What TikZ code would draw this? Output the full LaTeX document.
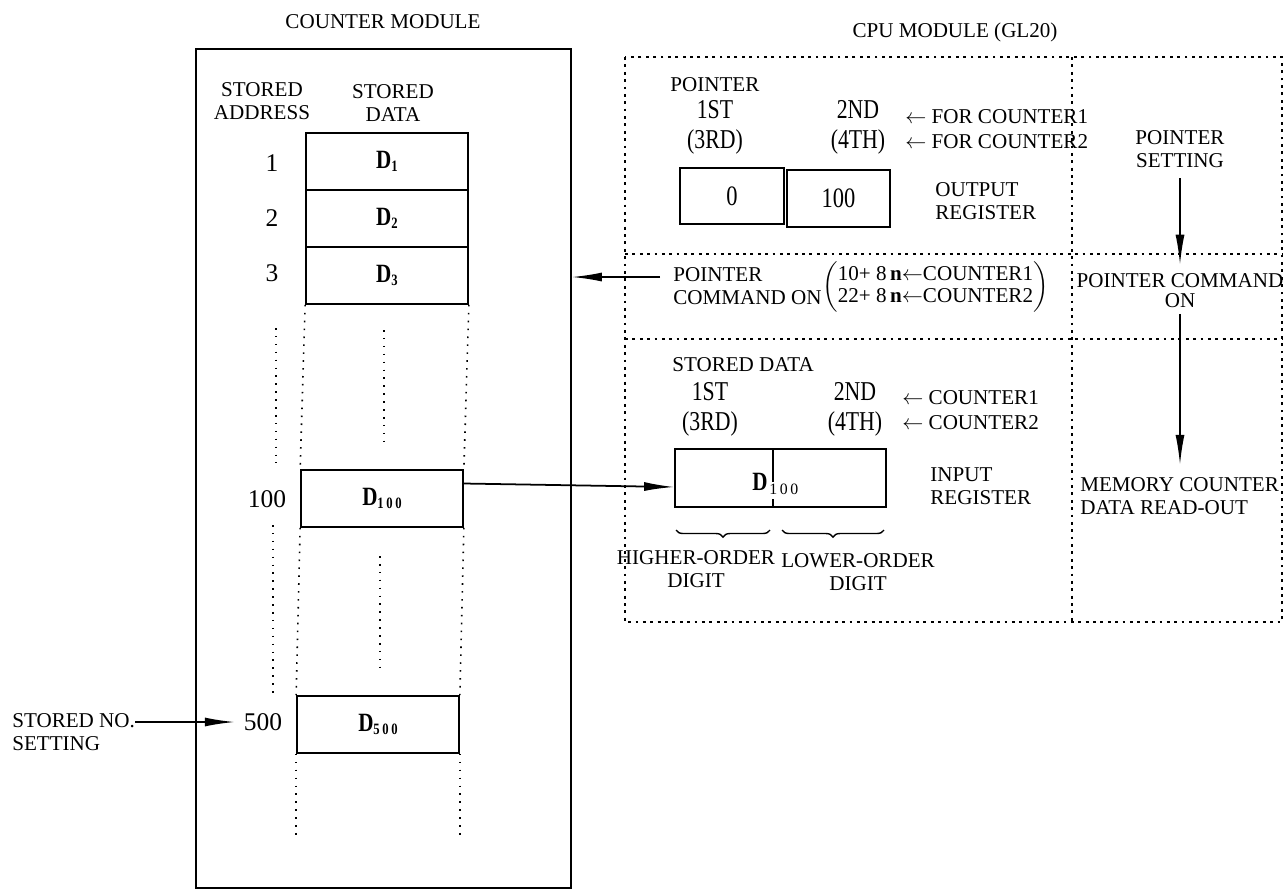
\documentclass[tikz,border=0pt]{standalone}
\usepackage{amsmath}
\usepackage{fontspec}
\setmainfont{Liberation Serif}
\newfontfamily\narrowfont[FakeStretch=0.8]{Liberation Serif}
\usetikzlibrary{arrows.meta, decorations.pathreplacing}

\newcommand{\dsub}[1]{\raisebox{-1.5pt}{\fontsize{9}{9}\selectfont #1}}

\tikzset{
    lbl/.style={font=\fontsize{12}{13}\selectfont, align=center, inner sep=0pt},
    lblw/.style={lbl, align=left, anchor=west},
    num/.style={font=\fontsize{14.5}{14.5}\selectfont, inner sep=0pt},
    regnum/.style={font=\narrowfont\fontsize{16}{16}\selectfont},
    ord/.style={font=\narrowfont\fontsize{15.5}{17}\selectfont, align=center, inner sep=0pt},
    cell/.style={draw, line width=1pt, minimum width=3.24cm, minimum height=1.14cm, inner sep=0pt,
        font=\narrowfont\bfseries\fontsize{15}{15}\selectfont},
    colline/.style={line width=0.9pt, dash pattern=on 0.9pt off 3.6pt},
    cpuline/.style={line width=0.8pt, dash pattern=on 1.6pt off 2.6pt},
    flow/.style={-{Latex[length=6mm,width=1.8mm]}, line width=1pt},
}

\begin{document}
\begin{tikzpicture}[x=0.02cm, y=-0.02cm]
    \useasboundingbox (0,0) rectangle (1286,894);

    % counter module
    \node[lbl] (cmodtitle) at (383,22) {COUNTER MODULE};
    \node[draw, line width=1pt, minimum width=7.5cm, minimum height=16.78cm, inner sep=0pt] (cmod) at (383.5,468.5) {};
    \node[lbl] (addrhd) at (262,101) {STORED\\ADDRESS};
    \node[lbl] (datahd) at (393,103) {STORED\\DATA};

    \node[cell] (d1) at (387,161.5) {D\dsub{1}};
    \node[cell] (d2) at (387,218.5) {D\dsub{2}};
    \node[cell] (d3) at (387,275.5) {D\dsub{3}};
    \node[cell] (d100) at (382,498.5) {D\dsub{1\,0\,0}};
    \node[cell] (d500) at (378,724.5) {D\dsub{5\,0\,0}};

    \node[num] (n1) at (272,163) {1};
    \node[num] (n2) at (272,218) {2};
    \node[num] (n3) at (272,273) {3};
    \node[num] (n100) at (267,499) {100};
    \node[num] (n500) at (263,722) {500};

    \draw[colline] (d3.south west) -- (d100.north west);
    \draw[colline] (d3.south east) -- (d100.north east);
    \draw[colline] (d100.south west) -- (d500.north west);
    \draw[colline] (d100.south east) -- (d500.north east);
    \draw[colline] (d500.south west) -- ++(0,83);
    \draw[colline] (d500.south east) -- ++(0,83);
    \draw[colline] (384,330) -- (384,444);
    \draw[colline] (380,556) -- (380,669);
    \draw[colline] (276,328) -- (276,463);
    \draw[colline] (273,525) -- (273,696);

    \node[lblw] (storedno) at (12,732) {STORED NO.\\SETTING};
    \draw[flow, shorten >=5pt] (storedno.east |- n500.west) -- (n500.west);

    % cpu module
    \node[lbl] (cputitle) at (955,32) {CPU MODULE (GL20)};
    \coordinate (cpuNW) at (625,57);
    \coordinate (cpuSE) at (1282,622);
    \draw[cpuline] (cpuNW) rectangle (cpuSE);
    \draw[cpuline] (1072,57) -- (1072,622);
    \draw[cpuline] (625,254) -- (1282,254);
    \draw[cpuline] (625,339) -- (1282,339);

    \node[lblw] (ptrhd) at (670,85) {POINTER};
    \node[ord] (ptr1) at (715,127) {1ST\\(3RD)};
    \node[ord] (ptr2) at (858,127) {2ND\\(4TH)};
    \node[lblw, font=\fontsize{12}{14}\selectfont] (ptrfor) at (905,129) {$\leftarrow$ FOR COUNTER1\\$\leftarrow$ FOR COUNTER2};
    \node[draw, line width=1pt, minimum width=2.08cm, minimum height=1.12cm, regnum] (outhi) at (732,196) {0};
    \node[draw, line width=1pt, minimum width=2.06cm, minimum height=1.14cm, regnum] (outlo) at (838.5,198.5) {100};
    \node[lblw] (outlbl) at (935,201) {OUTPUT\\REGISTER};

    \node[lblw] (pcmd) at (673,286) {POINTER\\COMMAND ON};
    \node[lblw] (pcmdexpr) at (822,287) {$\left(\begin{tabular}{@{}l@{}}10+ 8\,\textbf{n}$\leftarrow$COUNTER1\\22+ 8\,\textbf{n}$\leftarrow$COUNTER2\end{tabular}\right)$};
    \draw[flow] ([xshift=-2.6mm,yshift=1.8mm]pcmd.west) coordinate (pcmdtail) -- (pcmdtail -| cmod.east);

    \node[lbl] (ptrset) at (1180,149) {POINTER\\SETTING};
    \node[lbl] (pcmdon) at (1180,291) {POINTER COMMAND\\[-1.5pt]ON};
    \node[lblw] (memrd) at (1080,496) {MEMORY COUNTER\\DATA READ-OUT};
    \draw[flow, shorten <=6pt, shorten >=5pt] (ptrset.south) -- (ptrset.south |- pcmdon.north);
    \draw[flow, shorten <=3pt, shorten >=7pt] (pcmdon.south) -- (pcmdon.south |- memrd.north);

    \node[lblw] (sdhd) at (672,365) {STORED DATA};
    \node[ord] (sd1) at (710,409) {1ST\\(3RD)};
    \node[ord] (sd2) at (855,409) {2ND\\(4TH)};
    \node[lblw, font=\fontsize{12}{14}\selectfont] (sdcnt) at (902,410) {$\leftarrow$ COUNTER1\\$\leftarrow$ COUNTER2};

    \node[draw, line width=1pt, minimum width=4.22cm, minimum height=1.16cm, inner sep=0pt] (inreg) at (780.5,478) {};
    \coordinate (split) at (773,478);
    \draw[line width=1pt] (split |- inreg.north) -- (773,482);
    \draw[line width=1pt] (773,499) -- (split |- inreg.south);
    \node[font=\narrowfont\bfseries\fontsize{15}{15}\selectfont, anchor=east, inner sep=0pt] (inD) at (768,482) {D};
    \node[anchor=west, inner sep=0pt, font=\fontsize{9}{9}\selectfont] (insub) at (769,489) {1\,0\,0};
    \node[lblw] (inlbl) at (930,486) {INPUT\\REGISTER};
    \draw[flow] ([yshift=3mm]d100.east) -- ([yshift=-1.8mm]inreg.west);

    \coordinate (hiL) at (676,530);
    \coordinate (hiR) at (770,530);
    \coordinate (loL) at (782,530);
    \coordinate (loR) at (884,530);
    \draw[line width=0.8pt, decorate, decoration={brace, mirror, amplitude=4pt}] (hiL) -- (hiR);
    \draw[line width=0.8pt, decorate, decoration={brace, mirror, amplitude=4pt}] (loL) -- (loR);
    \node[lbl] (hidig) at (696,569) {HIGHER-ORDER\\DIGIT};
    \node[lbl] (lodig) at (858,572) {LOWER-ORDER\\DIGIT};
\end{tikzpicture}
\end{document}
